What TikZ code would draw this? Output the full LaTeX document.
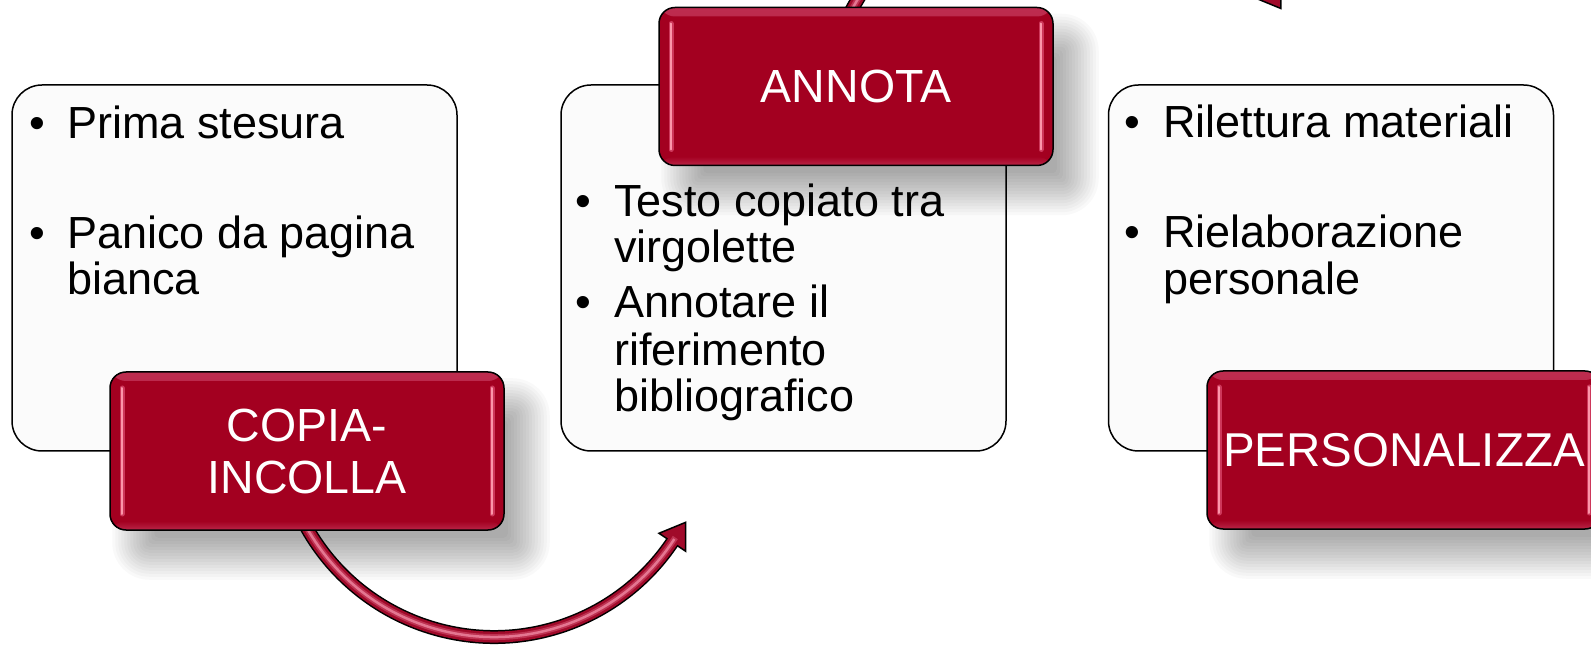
\documentclass[tikz,border=0pt]{standalone}
\usepackage{fontspec}
\setmainfont{Liberation Sans}
\usetikzlibrary{calc}
\definecolor{wine}{RGB}{163,0,32}
\definecolor{wineL}{RGB}{190,45,80}
\definecolor{hlpink}{RGB}{252,150,170}
\definecolor{hlmid}{RGB}{205,55,90}
\definecolor{boxfill}{RGB}{251,251,251}
\definecolor{tubeD}{RGB}{160,10,42}
\definecolor{tubeM}{RGB}{190,50,82}
\definecolor{tubeL}{RGB}{228,118,145}
\pgfdeclarelayer{bg}
\pgfdeclarelayer{shd}
\pgfdeclarelayer{arr}
\pgfsetlayers{bg,shd,arr,main}
\tikzset{
  whitebox/.style={draw=black, line width=1.5pt, fill=boxfill, rounded corners=30pt,
    minimum width=445pt, minimum height=366pt, inner sep=0pt},
  redbox/.style={draw=black, line width=1.5pt, fill=wine, rounded corners=16pt,
    minimum width=394pt, minimum height=158pt, inner sep=0pt, text=white, align=center,
    font=\fontsize{46.5}{52}\selectfont,
    path picture={
      \shade[top color=wineL, bottom color=wine]
        ([yshift=2pt]path picture bounding box.north west) rectangle
        ([yshift=-9pt]path picture bounding box.north east);
      \shade[bottom color=wineL, top color=wine]
        ([yshift=-2pt]path picture bounding box.south west) rectangle
        ([yshift=9pt]path picture bounding box.south east);
      \foreach \sd/\xs in {west/12, east/-12} {
        \draw[hlmid, line width=5pt, line cap=round]
          ([xshift=\xs pt, yshift=16pt]path picture bounding box.south \sd) --
          ([xshift=\xs pt, yshift=-16pt]path picture bounding box.north \sd);
        \draw[hlpink, line width=2pt, line cap=round]
          ([xshift=\xs pt, yshift=16pt]path picture bounding box.south \sd) --
          ([xshift=\xs pt, yshift=-16pt]path picture bounding box.north \sd);
      }
    }},
  btext/.style={anchor=base west, inner sep=0pt, font=\fontsize{45}{46}\selectfont},
  shadowpiece/.style={fill=black, fill opacity=0.022, draw=none},
  tubeout/.style={line width=14pt, black},
  tubebody/.style={line width=11pt, tubeD},
  tubemid/.style={line width=6pt, tubeM},
  tubelight/.style={line width=2.5pt, tubeL},
  headstyle/.style={fill=tubeD, draw=black, line width=1.5pt, line join=miter},
}
\begin{document}
\begin{tikzpicture}[x=1pt,y=1pt]
\useasboundingbox (0,0) rectangle (1591,646);
\begin{pgfonlayer}{bg}
  \fill[white] (0,0) rectangle (1591,646);
  \node[whitebox] (wA) at (234.5,378) {};
  \node[whitebox] (wB) at (783.5,378) {};
  \node[whitebox] (wC) at (1331,378) {};
\end{pgfonlayer}

% bullet texts
\node[btext] (bA1) at (29,507) {•};
\node[btext] (tA1) at (67,507) {Prima stesura};
\node[btext] (bA2) at (29,397) {•};
\node[btext] (tA2) at (67,397) {Panico da pagina};
\node[btext] (tA3) at (67,351) {bianca};

\node[btext] (bB1) at (575,429) {•};
\node[btext] (tB1) at (614,429) {Testo copiato tra};
\node[btext] (tB2) at (614,383) {virgolette};
\node[btext] (bB2) at (575,328) {•};
\node[btext] (tB3) at (614,328) {Annotare il};
\node[btext] (tB4) at (614,280) {riferimento};
\node[btext] (tB5) at (614,234) {bibliografico};

\node[btext] (bC1) at (1124,508) {•};
\node[btext] (tC1) at (1163,508) {Rilettura materiali};
\node[btext] (bC2) at (1124,398) {•};
\node[btext] (tC2) at (1163,398) {Rielaborazione};
\node[btext] (tC3) at (1163,351) {personale};

% red boxes
\node[redbox] (rA) at (307,195) {COPIA-\\INCOLLA};
\node[redbox] (rB) at (856,559.5) {ANNOTA};
\node[redbox, font=\fontsize{47.5}{52}\selectfont] (rC) at (1404,196) {PERSONALIZZA};

\begin{pgfonlayer}{shd}
  \foreach \n in {rA,rB,rC}{
    \foreach \k [evaluate=\k as \rr using {max(4,16+3*\k)}, evaluate=\k as \dd using {3*\k}] in {-7,...,7}
      \fill[shadowpiece, rounded corners=\rr pt]
        ($(\n.south west)+(24-\dd,-28-\dd)$) rectangle ($(\n.north east)+(24+\dd,-28+\dd)$);
  }
\end{pgfonlayer}

\begin{pgfonlayer}{arr}
  % bottom arrow: COPIA-INCOLLA -> ANNOTA
  \coordinate (c1) at (494,224);
  \coordinate (s1) at ($(c1)+(205:215)$);
  \coordinate (b1) at ($(c1)+(326:215)$);
  \coordinate (t1) at ($(b1)+(56:24)$);
  \draw[tubeout] (s1) arc[start angle=205, end angle=326, radius=215];
  \filldraw[headstyle] ($(b1)+(326:16)$) -- (t1) -- ($(b1)+(146:16)$) -- cycle;
  \draw[tubebody] (s1) arc[start angle=205, end angle=328, radius=215];
  \draw[tubemid] (s1) arc[start angle=205, end angle=327.5, radius=215];
  \draw[tubelight] (s1) arc[start angle=205, end angle=327, radius=215];
  % top arrow: ANNOTA -> PERSONALIZZA
  \coordinate (c2) at (1066,521.5);
  \coordinate (s2) at ($(c2)+(155:243)$);
  \coordinate (b2) at ($(c2)+(34:243)$);
  \coordinate (t2) at ($(b2)+(-56:24)$);
  \draw[tubeout] (s2) arc[start angle=155, end angle=34, radius=243];
  \filldraw[headstyle] ($(b2)+(34:16)$) -- (t2) -- ($(b2)+(214:16)$) -- cycle;
  \draw[tubebody] (s2) arc[start angle=155, end angle=32.2, radius=243];
  \draw[tubemid] (s2) arc[start angle=155, end angle=32.6, radius=243];
  \draw[tubelight] (s2) arc[start angle=155, end angle=33, radius=243];
\end{pgfonlayer}
\end{tikzpicture}
\end{document}
